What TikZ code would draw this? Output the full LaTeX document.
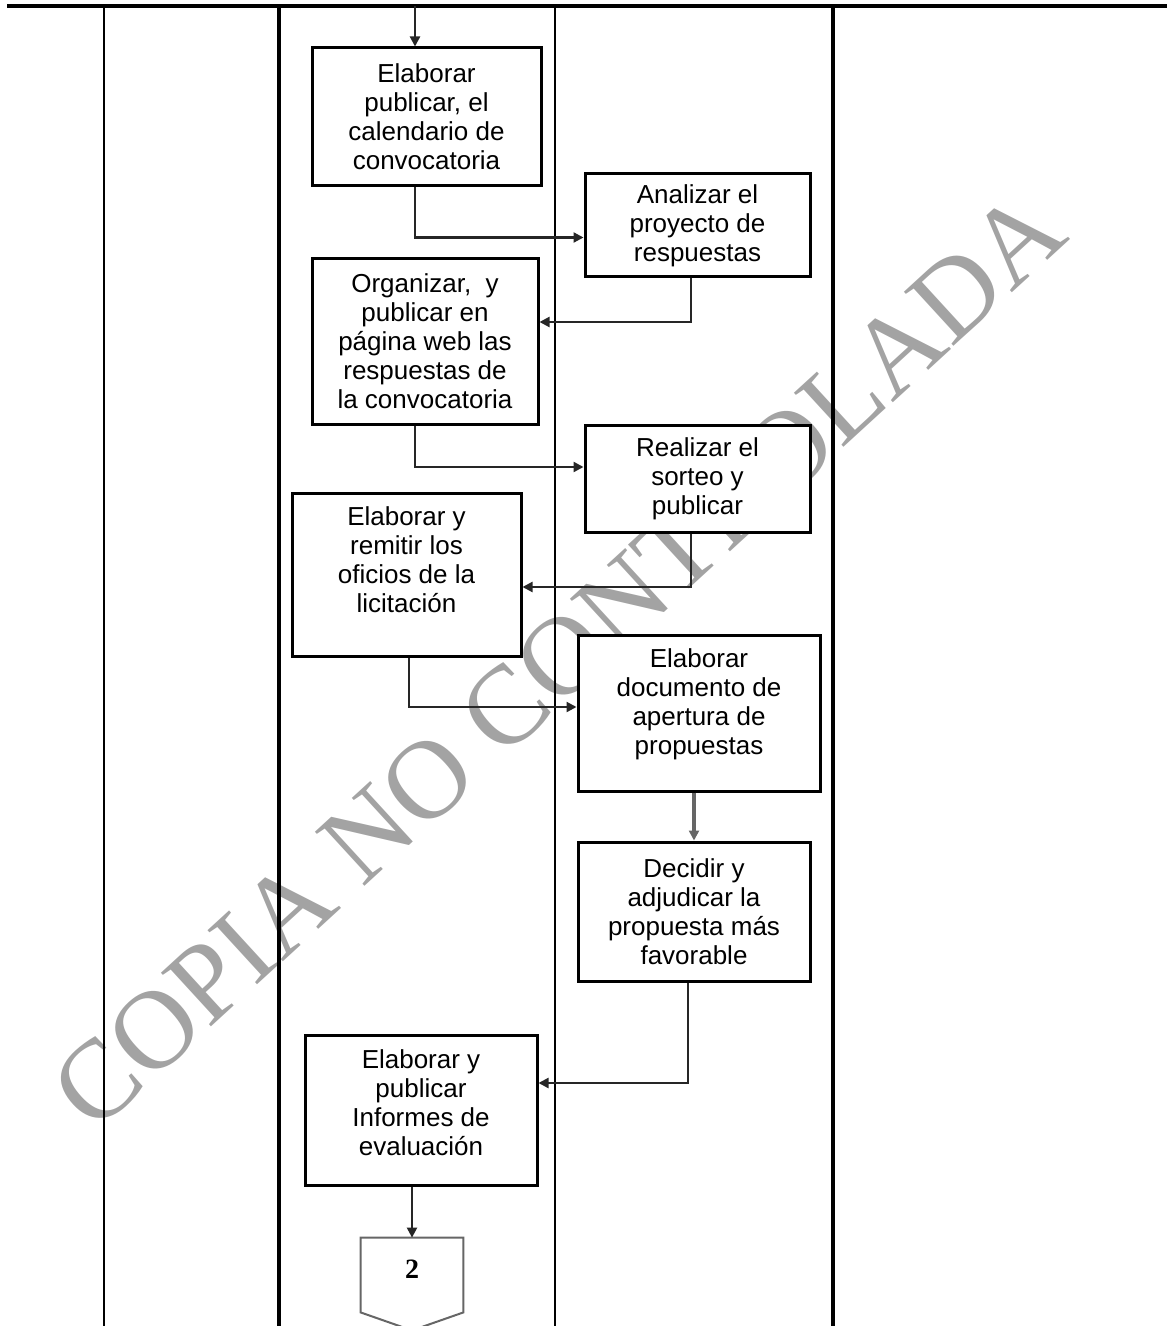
\documentclass[tikz,border=0pt]{standalone}
\usepackage{fontspec}
\setmainfont{Liberation Sans}
\newfontfamily\wmfont{Liberation Serif}
\usetikzlibrary{arrows.meta}

\begin{document}
\begin{tikzpicture}[x=0.5pt,y=-0.5pt,
 caja/.style={draw=black,line width=1.5pt,fill=white,align=center,inner sep=2pt,font=\fontsize{13}{14.5}\selectfont},
 flecha/.style={draw=black!85,line width=1.1pt,-{Triangle[length=5pt,width=5pt]}},
 carril/.style={line width=1pt}]
\useasboundingbox (0,0) rectangle (1167,1326);
\node (W) [rotate=42.5,text=black!36,font=\wmfont\fontsize{56}{56}\selectfont] at (558,660) {COPIA NO CONTROLADA};
\draw[line width=2pt] (7,6) -- (1167,6);
\draw[carril] (104,6) -- (104,1326) (555,6) -- (555,1326);
\draw[carril,line width=2pt] (279,6) -- (279,1326) (833,6) -- (833,1326);
\coordinate (in) at (415,6);

\node (P1) [caja,minimum width=114.5pt,minimum height=69pt] at (426.5,117) {Elaborar\\publicar, el\\calendario de\\convocatoria};
\node (P2) [caja,minimum width=112.5pt,minimum height=51.5pt] at (697.5,225.5) {Analizar el\\proyecto de\\respuestas};
\node (P3) [caja,minimum width=113pt,minimum height=82.5pt] at (425,341.5) {Organizar,\ \ y\\publicar en\\página web las\\respuestas de\\la convocatoria};
\node (P4) [caja,minimum width=112.5pt,minimum height=53.5pt] at (697.5,478.5) {Realizar el\\sorteo y\\publicar};
\node (P5) [caja,minimum width=114.5pt,minimum height=81.5pt,text depth=15pt] at (406.5,574.5) {Elaborar y\\remitir los\\oficios de la\\licitación};
\node (P6) [caja,minimum width=121pt,minimum height=78pt,text depth=11pt] at (699,713) {Elaborar\\documento de\\apertura de\\propuestas};
\node (P7) [caja,minimum width=116pt,minimum height=69.5pt] at (694,911.5) {Decidir y\\adjudicar la\\propuesta más\\favorable};
\node (P8) [caja,minimum width=116pt,minimum height=75pt,text depth=7pt] at (421,1110) {Elaborar y\\publicar\\Informes de\\evaluación};
\node (C2) [minimum width=51pt,minimum height=37pt,inner sep=0pt,font=\wmfont\bfseries\fontsize{14}{14}\selectfont] at (412,1275) {\raisebox{6pt}{2}};
\draw[line width=1pt,draw=black!60] (C2.north west) -- (C2.north east) -- (C2.south east) -- ([yshift=-9pt]C2.south) -- (C2.south west) -- cycle;

\draw[flecha] (in) -- (in |- P1.north);
\draw[flecha] (in |- P1.south) |- ([yshift=-6pt]P2.west);
\draw[flecha] ([xshift=-3.25pt]P2.south) |- ([yshift=9.75pt]P3.east);
\draw[flecha] (in |- P3.south) |- ([yshift=5.75pt]P4.west);
\draw[flecha] ([xshift=-3.25pt]P4.south) |- ([yshift=-6.25pt]P5.east);
\draw[flecha] ([xshift=1.25pt]P5.south) |- ([yshift=3pt]P6.west);
\draw[flecha,line width=2pt,draw=black!60] (P7.north |- P6.south) -- (P7.north);
\draw[flecha] ([xshift=-3pt]P7.south) |- ([yshift=13.5pt]P8.east);
\draw[flecha] (C2.north |- P8.south) -- (C2.north);
\end{tikzpicture}
\end{document}
